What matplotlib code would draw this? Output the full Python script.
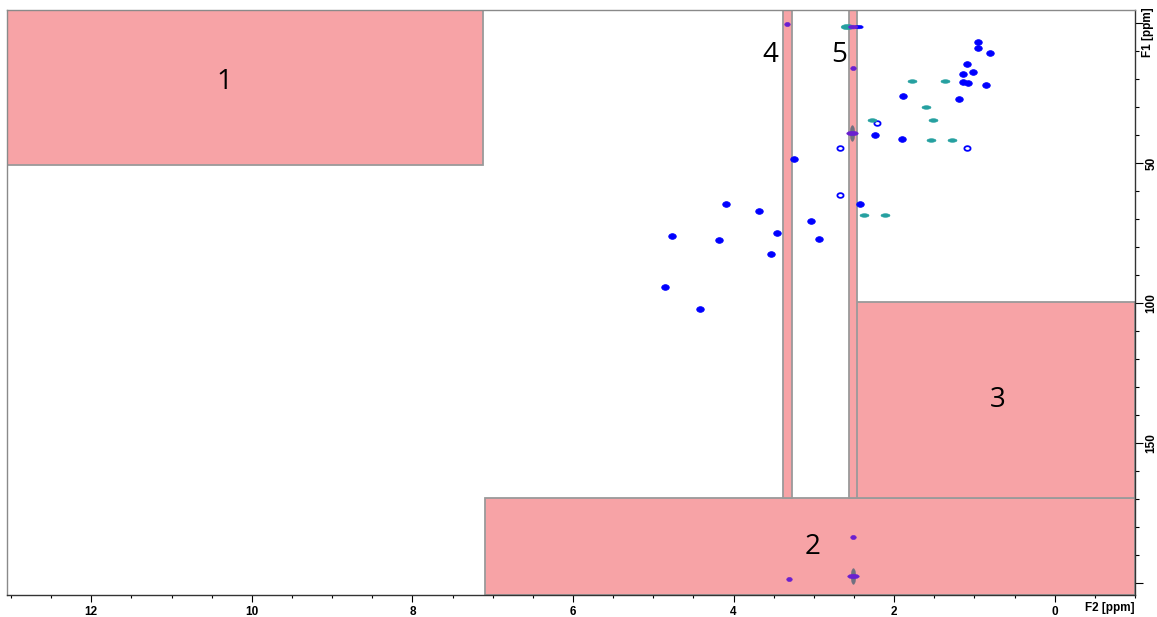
import numpy as np
import matplotlib
matplotlib.use("Agg")
import matplotlib.pyplot as plt
from matplotlib.patches import Rectangle
from matplotlib.path import Path
from matplotlib.ticker import MultipleLocator, FixedLocator

# cross peaks (F2, F1) in ppm
blue_f2 = [3.25, 2.24, 1.90, 1.89, 1.19, 1.14, 1.08, 1.14, 1.02, 1.09, 0.95, 0.95, 0.80, 0.85,
           4.09, 3.68, 4.77, 4.18, 3.46, 3.53, 4.86, 4.42, 2.43, 3.04, 2.93]
blue_f1 = [48.7, 40.2, 41.4, 26.1, 27.3, 18.3, 21.3, 21.0, 17.5, 14.6, 6.7, 9.0, 10.8, 22.1,
           64.6, 67.0, 76.2, 77.4, 74.9, 82.7, 94.4, 102.1, 64.6, 70.6, 77.3]
ring_f2 = [2.68, 2.21, 1.09, 2.68]
ring_f1 = [44.8, 35.6, 44.8, 61.4]
teal_f2 = [2.27, 1.52, 1.54, 1.28, 1.60, 1.78, 1.37, 2.37, 2.12]
teal_f1 = [34.6, 34.6, 41.9, 41.9, 29.9, 20.7, 20.7, 68.6, 68.6]
purple_f2 = [3.33, 2.51, 2.51, 3.31]
purple_f1 = [0.5, 16.0, 183.5, 198.7]

# solvent / DMSO signals
streak_f2 = [2.44, 2.58, 2.51]
streak_f1 = [1.5, 1.5, 1.5]
cross_f2 = [2.52, 2.51]
cross_f1 = [39.4, 197.5]

# excluded regions: (F2 left, F2 right, F1 top, F1 bottom)
regions = [(13.05, 7.12, -4.6, 50.6),
           (7.09, -1.0, 169.7, 204.3),
           (2.47, -1.0, 99.5, 169.7),
           (3.38, 3.27, -4.6, 169.7),
           (2.56, 2.46, -4.6, 169.7)]
region_names = ["1", "2", "3", "4", "5"]
label_f2 = [10.34, 3.02, 0.71, 3.54, 2.68]
label_f1 = [21.1, 187.0, 134.6, 11.4, 11.4]


def ellipse(ratio):
    t = np.linspace(0, 2 * np.pi, 41)
    return Path(np.column_stack([np.cos(t), ratio * np.sin(t)]))


blob = ellipse(0.75)
dash = ellipse(0.4)
tall = Path(np.column_stack([0.3 * np.cos(np.linspace(0, 2 * np.pi, 41)),
                             np.sin(np.linspace(0, 2 * np.pi, 41))]))

fig = plt.figure(figsize=(11.57, 6.17), dpi=100)
ax = fig.add_axes([7 / 1157, 1 - 595 / 617, 1128 / 1157, 585 / 617])
ax.set_xlim(13.05, -1.0)
ax.set_ylim(204.3, -4.6)

for (x0, x1, y0, y1) in regions:
    ax.add_patch(Rectangle((x1, y0), x0 - x1, y1 - y0, facecolor="#f7a3a6",
                           edgecolor="#9a9a9a", linewidth=1.3, zorder=1))

for name, x, y in zip(region_names, label_f2, label_f1):
    ax.text(x, y, name, fontsize=20, family="Open Sans", ha="center", va="center", zorder=5)

ax.scatter(blue_f2, blue_f1, marker=blob, s=30, color="#0000ff", linewidths=0.5, zorder=3)
ax.scatter(ring_f2, ring_f1, marker=blob, s=20, facecolor="white", edgecolor="#0000ff",
           linewidths=1.3, zorder=3)
ax.scatter(teal_f2, teal_f1, marker=dash, s=42, color="#25a0a0", linewidths=0.4, zorder=3)
ax.scatter(purple_f2, purple_f1, marker=blob, s=16, color="#6a1fd0", linewidths=0.4, zorder=3)

ax.scatter(streak_f2, streak_f1, marker=dash, s=[40, 85, 45],
           color=["#0000ff", "#25a0a0", "#6a1fd0"], linewidths=0.4, zorder=3)
ax.scatter(cross_f2, cross_f1, marker=tall, s=130, color="#707080", linewidths=0.3, zorder=3)
ax.scatter(cross_f2, cross_f1, marker=dash, s=70, color="#6a1fd0", linewidths=0.3, zorder=4)

# axes in the style of a 2D NMR plot: F2 below, F1 on the right
ax.yaxis.tick_right()
ax.xaxis.set_major_locator(MultipleLocator(2))
ax.xaxis.set_minor_locator(MultipleLocator(0.5))
ax.yaxis.set_major_locator(FixedLocator([0, 50, 100, 150, 200]))
ax.yaxis.set_minor_locator(MultipleLocator(10))
ax.set_yticklabels(["", "50", "100", "150", ""])
ax.tick_params(axis="x", which="major", length=5, width=0.8, pad=3, labelsize=8.5)
ax.tick_params(axis="x", which="minor", length=2.5, width=0.8)
ax.tick_params(axis="y", which="major", length=5.5, width=0.8, pad=2, labelsize=8.5)
ax.tick_params(axis="y", which="minor", length=3, width=0.8)
for lab in ax.get_xticklabels() + ax.get_yticklabels():
    lab.set_fontweight("bold")
    lab.set_family("Liberation Sans")
for lab in ax.get_yticklabels():
    lab.set_rotation(90)
    lab.set_va("center")

ax.spines["top"].set_color("#8a8a8a")
ax.spines["left"].set_color("#8a8a8a")
ax.spines["bottom"].set_color("#333333")
ax.spines["right"].set_color("#333333")
for sp in ax.spines.values():
    sp.set_linewidth(1.0)

fig.text(1110 / 1157, 1 - 608 / 617, "F2 [ppm]", fontsize=8.5, fontweight="bold",
         family="Liberation Sans", ha="center", va="center")
fig.text(1148 / 1157, 1 - 32 / 617, "F1 [ppm]", fontsize=8.5, fontweight="bold",
         family="Liberation Sans", ha="center", va="center", rotation=90)

fig.savefig("out.png", dpi=100)
